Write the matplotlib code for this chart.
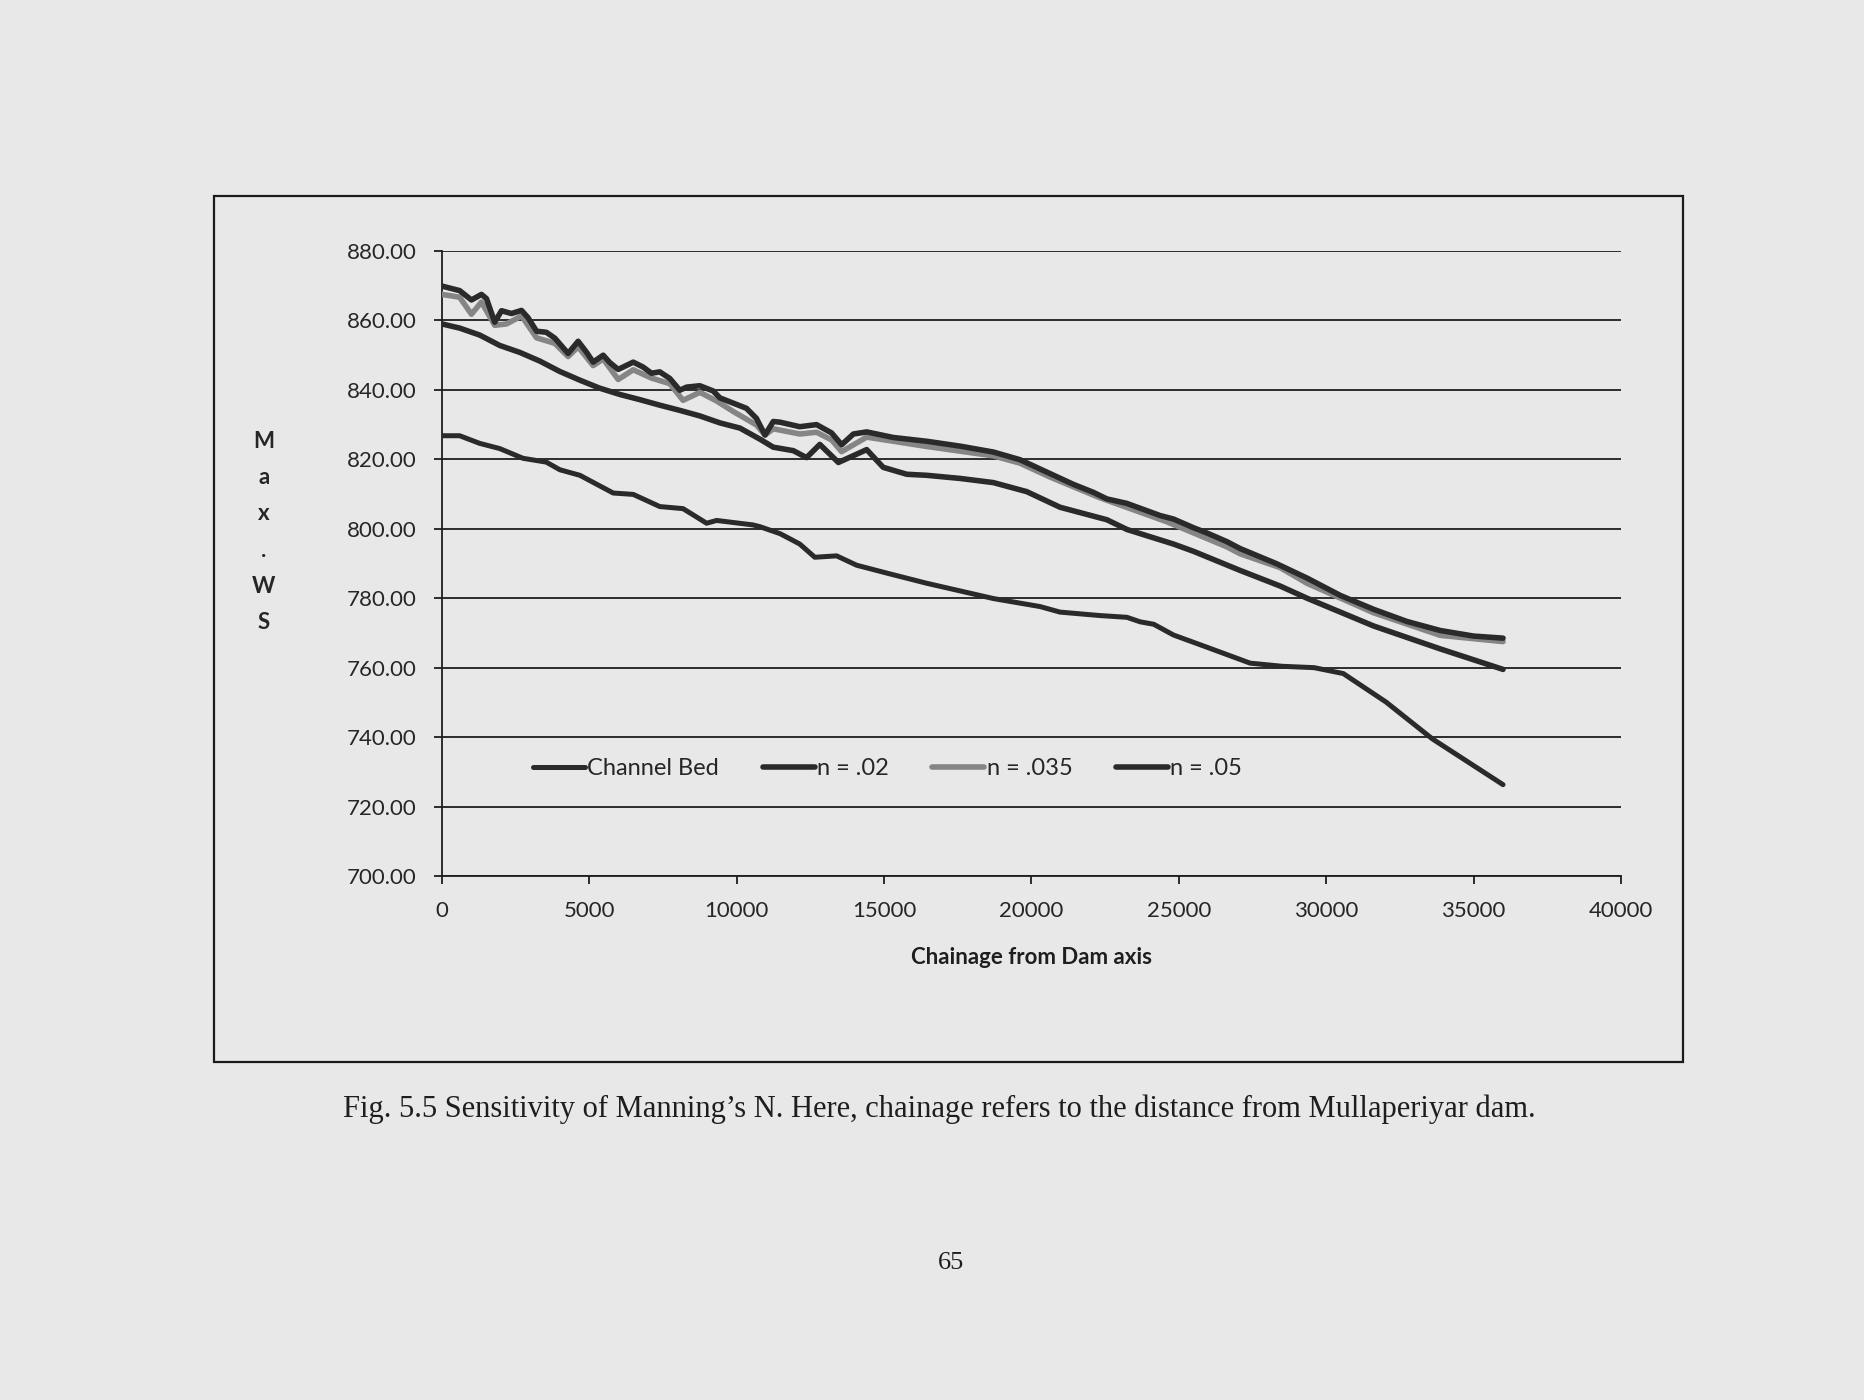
import matplotlib
matplotlib.use("Agg")
import matplotlib.pyplot as plt
from matplotlib.patches import Rectangle

# ---------------- data ----------------
bed_x = [0, 600, 1280, 1960, 2750, 3540, 4000, 4680, 5810, 6490, 7390, 8180, 8980, 9320,
         10560, 10790, 11470, 11920, 12140, 12650, 13390, 14070, 15200, 16450, 18710,
         20290, 20970, 22330, 23240, 23690, 24150, 24820, 25950, 27420, 28500, 29590,
         30580, 32030, 33600, 36000]
bed_y = [826.8, 826.8, 824.6, 823.1, 820.3, 819.2, 817.0, 815.4, 810.3, 809.9, 806.4, 805.8,
         801.6, 802.4, 801.1, 800.6, 798.6, 796.6, 795.6, 791.8, 792.2, 789.5, 787.0, 784.3,
         779.9, 777.6, 776.0, 775.0, 774.5, 773.2, 772.5, 769.4, 765.9, 761.3, 760.4, 760.0,
         758.3, 750.1, 739.5, 726.3]

n02_x = [0, 600, 1280, 1960, 2640, 3320, 4000, 4680, 5350, 6030, 6710, 7390, 8070, 8750,
         9430, 10110, 10790, 11240, 11920, 12370, 12820, 13450, 14410, 14970, 15770, 16450,
         17580, 18710, 19840, 20970, 22560, 23240, 24820, 25500, 27080, 28440, 29350,
         31610, 33870, 36000]
n02_y = [859.0, 857.8, 855.8, 852.8, 850.8, 848.3, 845.3, 842.8, 840.5, 838.7, 837.2, 835.6,
         834.1, 832.5, 830.5, 829.0, 825.8, 823.5, 822.5, 820.5, 824.3, 819.1, 822.8, 817.7,
         815.7, 815.4, 814.5, 813.3, 810.7, 806.2, 802.6, 799.8, 795.6, 793.5, 788.0, 783.5,
         780.0, 772.0, 765.4, 759.5]

n035_x = [0, 600, 1000, 1340, 1790, 2190, 2700, 3210, 3830, 4280, 4620, 5130, 5470, 5980,
          6490, 7110, 7730, 8180, 8750, 9320, 9880, 10670, 10960, 11240, 12140, 12710, 13220,
          13560, 14410, 16450, 18710, 19610, 20630, 22300, 24600, 26630, 27080, 28440,
          29350, 31610, 33870, 36000]
n035_y = [867.5, 866.7, 861.8, 865.3, 858.6, 859.0, 861.3, 855.0, 853.4, 849.6, 852.4, 847.0,
          848.9, 843.0, 845.8, 843.4, 841.8, 837.0, 839.3, 836.8, 833.8, 829.9, 827.0, 828.8,
          827.3, 827.8, 825.6, 822.2, 826.4, 823.7, 821.0, 818.9, 814.9, 809.0, 802.0, 794.8,
          792.8, 788.8, 784.3, 775.8, 769.3, 767.5]

n05_x = [0, 600, 1000, 1340, 1510, 1790, 2020, 2360, 2700, 2920, 3210, 3540, 3830, 4280,
         4620, 4900, 5130, 5470, 5690, 5980, 6490, 6820, 7110, 7390, 7730, 8070, 8300, 8750,
         9200, 9430, 9880, 10330, 10670, 10960, 11240, 11470, 12140, 12710, 13220, 13560,
         13960, 14410, 15310, 16450, 17580, 18710, 19610, 20630, 21420, 22100, 22560, 23240,
         24370, 24820, 25500, 25950, 26630, 27080, 28300, 29350, 30480, 31610, 32740,
         33870, 35000, 36000]
n05_y = [869.9, 868.6, 865.9, 867.5, 866.3, 859.5, 862.8, 862.0, 862.9, 860.8, 856.9, 856.6,
         854.9, 850.5, 854.0, 850.9, 848.0, 850.0, 847.9, 845.9, 848.0, 846.6, 844.8, 845.2,
         843.3, 839.9, 840.8, 841.2, 839.7, 837.7, 836.2, 834.7, 831.8, 827.0, 830.9, 830.7,
         829.4, 830.0, 827.6, 824.2, 827.3, 827.9, 826.3, 825.2, 823.8, 822.1, 819.9, 815.9,
         812.8, 810.5, 808.6, 807.3, 803.8, 802.8, 800.3, 798.8, 796.3, 794.3, 790.0, 785.8,
         780.8, 776.8, 773.3, 770.7, 769.1, 768.5]

series_names = ["Channel Bed", "n = .02", "n = .035", "n = .05"]
y_ticks = [700, 720, 740, 760, 780, 800, 820, 840, 860, 880]
x_ticks = [0, 5000, 10000, 15000, 20000, 25000, 30000, 35000, 40000]
x_title = "Chainage from Dam axis"
y_title = "M\na\nx\n.\nW\nS"
caption = "Fig. 5.5 Sensitivity of Manning\u2019s N. Here, chainage refers to the distance from Mullaperiyar dam."
page_no = "65"

# ---------------- figure ----------------
paper = "#e8e8e8"
fig = plt.figure(figsize=(18.64, 14.0), dpi=100, facecolor=paper)
plt.rcParams["font.family"] = ["Lato", "DejaVu Sans"]

# chart area border
fig.patches.append(Rectangle((0.1148, 0.2414), 0.9029 - 0.1148, 0.86 - 0.2414,
                             transform=fig.transFigure, fill=False,
                             edgecolor="#1a1a1a", linewidth=1.6))

ax = fig.add_axes([0.2371, 0.3743, 0.6325, 0.4464])
ax.set_facecolor(paper)

dark = "#2a2a2a"
common = dict(solid_joinstyle="round", solid_capstyle="round")
ax.plot(bed_x, bed_y, color=dark, lw=3.6, label=series_names[0], zorder=3, **common)
ax.plot(n02_x, n02_y, color=dark, lw=4.0, label=series_names[1], zorder=3, **common)
ax.plot(n035_x, n035_y, color="#858585", lw=4.0, label=series_names[2], zorder=3, **common)
ax.plot(n05_x, n05_y, color=dark, lw=4.0, label=series_names[3], zorder=4, **common)

ax.set_xlim(0, 40000)
ax.set_ylim(700, 880)
ax.set_yticks(y_ticks)
ax.set_yticklabels([f"{v:.2f}" for v in y_ticks])
ax.set_xticks(x_ticks)
ax.set_xticklabels([str(v) for v in x_ticks])

ax.grid(axis="y", color="#1e1e1e", linewidth=1.3, zorder=1)
ax.set_axisbelow(True)
for s in ["top", "right"]:
    ax.spines[s].set_visible(False)
for s in ["left", "bottom"]:
    ax.spines[s].set_color("#1e1e1e")
    ax.spines[s].set_linewidth(1.3)
ax.tick_params(axis="both", which="major", direction="out", length=6, width=1.3,
               color="#1e1e1e", labelsize=16, labelcolor="#262626")
ax.tick_params(axis="y", pad=12)
ax.tick_params(axis="x", pad=12)

ax.set_xlabel(x_title, fontsize=16, fontweight="bold", color="#1e1e1e")
ax.xaxis.set_label_coords(0.5, -0.113)

fig.text(0.1416, 0.62, y_title, fontsize=16, fontweight="bold", color="#262626",
         ha="center", va="center", multialignment="center", linespacing=1.9)

leg = ax.legend(loc="center", bbox_to_anchor=(0.378, 0.172), ncol=4, frameon=False,
                fontsize=17, handlelength=2.2, handletextpad=0.1, columnspacing=1.85)
for t in leg.get_texts():
    t.set_color("#262626")

fig.text(0.5037, 0.2079, caption, fontsize=22, family=["Liberation Serif", "DejaVu Serif"],
         ha="center", va="center", color="#1e1e1e")
fig.text(0.5102, 0.098, page_no, fontsize=19, family=["Liberation Serif", "DejaVu Serif"],
         ha="center", va="center", color="#1e1e1e")

fig.savefig("out.png", dpi=100, facecolor=paper)
